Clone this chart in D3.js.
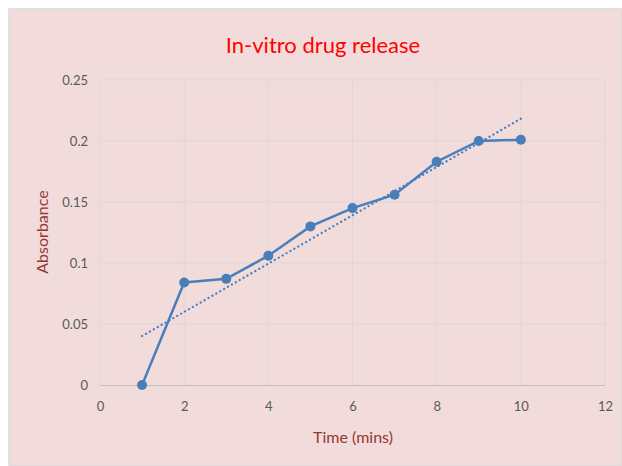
<!DOCTYPE html>
<meta charset="utf-8">
<script src="https://cdn.jsdelivr.net/npm/d3@7"></script>
<style>
body { margin: 0; background: #fff; }
text { font-family: Lato, "Open Sans", sans-serif; }
.tick text { fill: #595959; font-size: 13px; }
</style>
<body>
<script>

// data
var timeMins = [1, 2, 3, 4, 5, 6, 7, 8, 9, 10];
var absorbance = [0, 0.084, 0.087, 0.106, 0.130, 0.145, 0.156, 0.183, 0.200, 0.201];
var xTicks = [0, 2, 4, 6, 8, 10, 12];
var yTicks = [0, 0.05, 0.1, 0.15, 0.2, 0.25];

var width = 622, height = 466;
var margin = {left: 100, right: 17, top: 80, bottom: 81};

var svg = d3.select("body").append("svg")
    .attr("width", width)
    .attr("height", height);

// chart background
svg.append("rect")
    .attr("x", 9).attr("y", 9)
    .attr("width", width - 9).attr("height", height - 9)
    .attr("fill", "#f2dcdb")
    .attr("stroke", "#d9d9d9")
    .attr("stroke-width", 1.5);

var x = d3.scaleLinear().domain([0, 12]).range([margin.left, width - margin.right]);
var y = d3.scaleLinear().domain([0, 0.25]).range([height - margin.bottom, margin.top]);

// gridlines
svg.append("g").selectAll("line").data(yTicks.slice(1)).enter().append("line")
    .attr("x1", x(0)).attr("x2", x(12))
    .attr("y1", function(d) { return y(d); }).attr("y2", function(d) { return y(d); })
    .attr("stroke", "#d9d9d9").attr("stroke-width", 1);
svg.append("g").selectAll("line").data(xTicks).enter().append("line")
    .attr("y1", y(0)).attr("y2", y(0.25))
    .attr("x1", function(d) { return x(d); }).attr("x2", function(d) { return x(d); })
    .attr("stroke", "#d9d9d9").attr("stroke-width", 1);

// axes
var xAxis = svg.append("g")
    .attr("transform", "translate(0," + y(0) + ")")
    .call(d3.axisBottom(x).tickValues(xTicks).tickSize(0).tickPadding(17));
xAxis.select(".domain").attr("stroke", "#bfbfbf");

var yAxis = svg.append("g")
    .attr("transform", "translate(" + x(0) + ",0)")
    .call(d3.axisLeft(y).tickValues(yTicks).tickSize(0).tickPadding(12)
        .tickFormat(function(d) { return d3.format("")(+d.toFixed(2)); }));
yAxis.select(".domain").remove();

// linear trendline (least squares fit of the series)
var n = timeMins.length,
    mx = d3.mean(timeMins),
    my = d3.mean(absorbance);
var slope = d3.sum(timeMins, function(t, i) { return (t - mx) * (absorbance[i] - my); }) /
            d3.sum(timeMins, function(t) { return (t - mx) * (t - mx); });
var intercept = my - slope * mx;
var trend = [timeMins[0], timeMins[n - 1]];

svg.append("line")
    .attr("x1", x(trend[0])).attr("y1", y(intercept + slope * trend[0]))
    .attr("x2", x(trend[1])).attr("y2", y(intercept + slope * trend[1]))
    .attr("stroke", "#4a7ebb")
    .attr("stroke-width", 2.25)
    .attr("stroke-linecap", "round")
    .attr("stroke-dasharray", "0.1,4.4");

// data line
var pts = timeMins.map(function(t, i) { return [t, absorbance[i]]; });
svg.append("path")
    .datum(pts)
    .attr("fill", "none")
    .attr("stroke", "#4a7ebb")
    .attr("stroke-width", 2.5)
    .attr("d", d3.line().x(function(d) { return x(d[0]); }).y(function(d) { return y(d[1]); }));

svg.append("g").selectAll("circle").data(pts).enter().append("circle")
    .attr("cx", function(d) { return x(d[0]); })
    .attr("cy", function(d) { return y(d[1]); })
    .attr("r", 5)
    .attr("fill", "#4a7ebb");

// titles
svg.append("text")
    .attr("x", 323).attr("y", 53)
    .attr("text-anchor", "middle")
    .attr("fill", "#ff0000")
    .style("font-size", "22px")
    .text("In-vitro drug release");

svg.append("text")
    .attr("x", 353).attr("y", 443)
    .attr("text-anchor", "middle")
    .attr("fill", "#953735")
    .style("font-size", "16px")
    .text("Time (mins)");

svg.append("text")
    .attr("transform", "translate(48," + 232 + ") rotate(-90)")
    .attr("text-anchor", "middle")
    .attr("fill", "#953735")
    .style("font-size", "16px")
    .text("Absorbance");

</script>
</body>
